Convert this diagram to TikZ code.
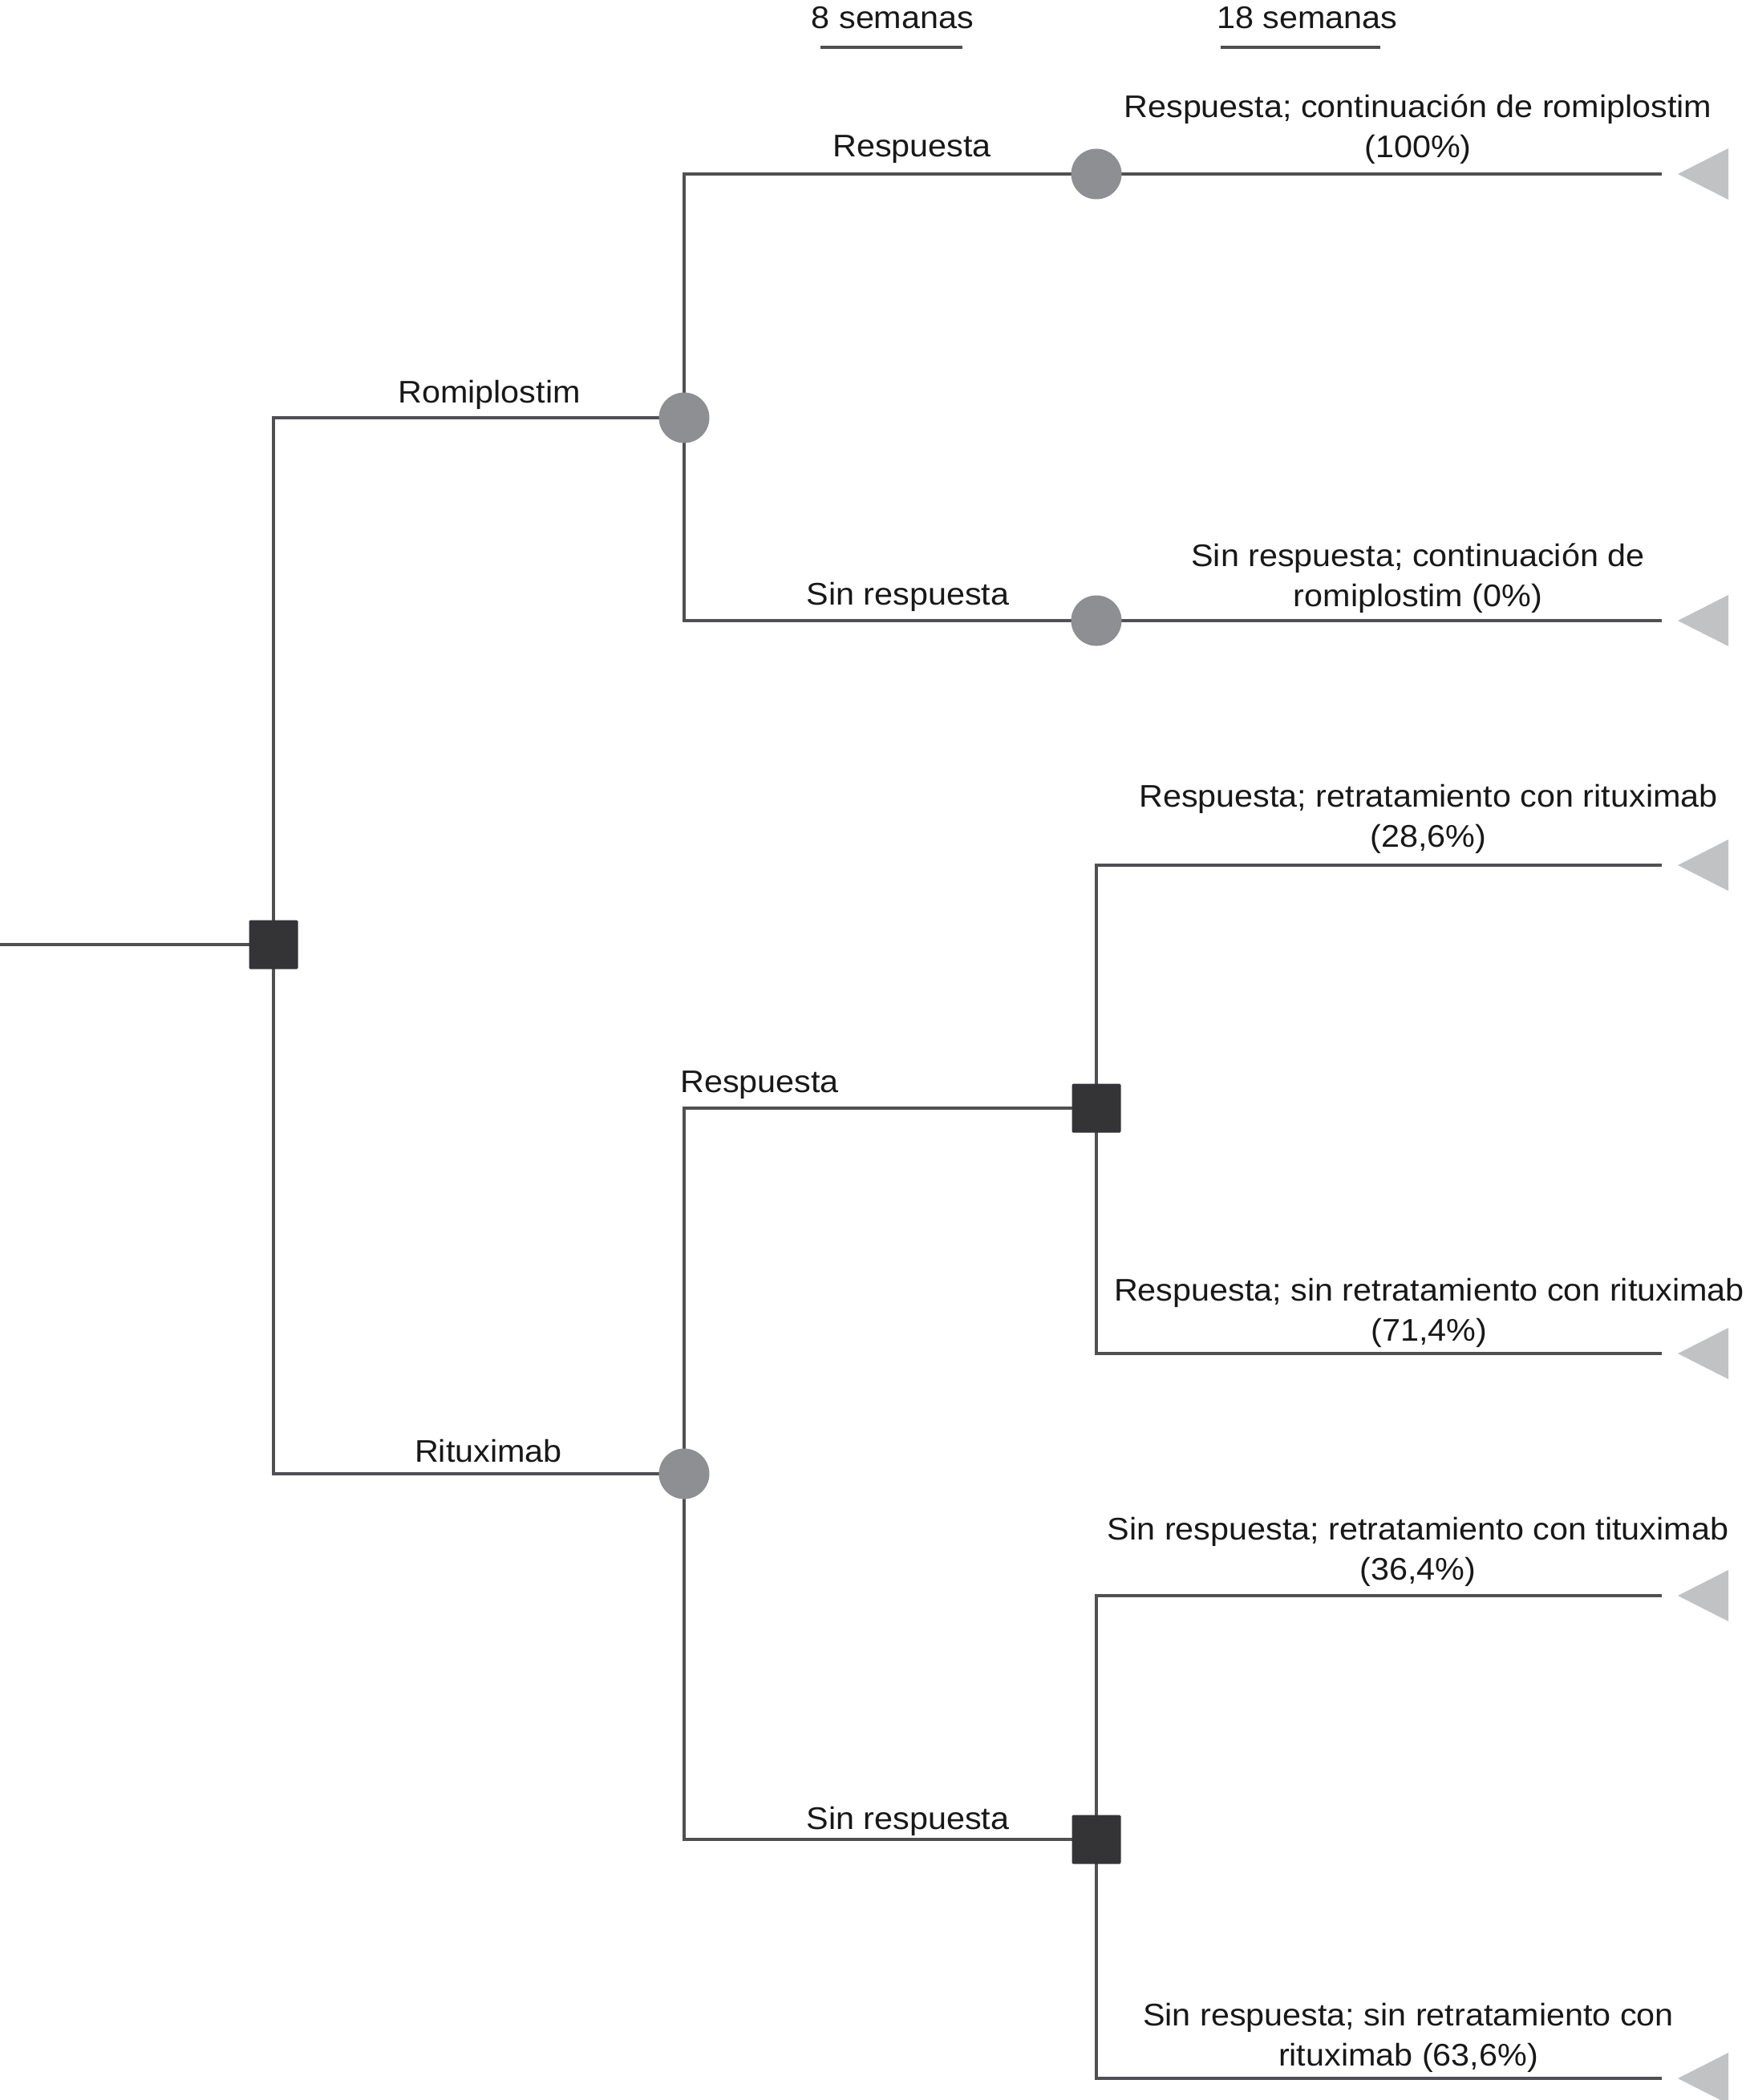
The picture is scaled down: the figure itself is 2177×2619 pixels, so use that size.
\documentclass[tikz,border=0pt]{standalone}
\usepackage{fontspec}
\setmainfont{Liberation Sans}[FakeStretch=1.06]
\usetikzlibrary{backgrounds}
\definecolor{edgecol}{RGB}{80,80,82}
\definecolor{chancecol}{RGB}{142,143,147}
\definecolor{decicol}{RGB}{52,52,54}
\definecolor{termcol}{RGB}{193,194,196}
\definecolor{txtcol}{RGB}{24,24,24}
\tikzset{
  edge/.style={draw=edgecol, line width=4.5pt},
  chance/.style={circle, fill=chancecol, minimum size=63pt, inner sep=0pt},
  decision/.style={rectangle, fill=decicol, minimum size=61pt, inner sep=0pt, rounded corners=1.5pt},
  lbl/.style={font=\fontsize{39}{50}\selectfont, text=txtcol, inner sep=0pt, text depth=0pt, anchor=south, align=center},
  termtri/.style={fill=termcol}
}
\begin{document}
\begin{tikzpicture}[x=1pt,y=-1pt]
\useasboundingbox (0,0) rectangle (2177,2619);
% header
\node[lbl] (h8) at (1113,36) {8 semanas};
\node[lbl] (h18) at (1630,36) {18 semanas};
\coordinate (u8a) at (1023,59); \coordinate (u8b) at (1200,59);
\coordinate (u18a) at (1522,59); \coordinate (u18b) at (1721,59);
\draw[edge] (u8a) -- (u8b);
\draw[edge] (u18a) -- (u18b);

% free ends
\coordinate (start) at (0,1178);
\coordinate (e1) at (2072,217);
\coordinate (e2) at (2072,774);
\coordinate (e3) at (2072,1079);
\coordinate (e4) at (2072,1688);
\coordinate (e5) at (2072,1990);
\coordinate (e6) at (2072,2592);

% nodes
\node[decision] (root) at (341,1178) {};
\node[chance] (c1) at (853,521) {};
\node[chance] (c2) at (1367,217) {};
\node[chance] (c3) at (1367,774) {};
\node[chance] (c4) at (853,1838) {};
\node[decision] (d2) at (1367,1382) {};
\node[decision] (d3) at (1367,2294) {};

% edges behind nodes
\begin{pgfonlayer}{background}
\draw[edge] (start) -- (root.center);
\draw[edge] (root.center) |- (c1.center);
\draw[edge] (root.center) |- (c4.center);
\draw[edge] (c1.center) |- (c2.center);
\draw[edge] (c1.center) |- (c3.center);
\draw[edge] (c2.center) -- (e1);
\draw[edge] (c3.center) -- (e2);
\draw[edge] (c4.center) |- (d2.center);
\draw[edge] (c4.center) |- (d3.center);
\draw[edge] (d2.center) |- (e3);
\draw[edge] (d2.center) |- (e4);
\draw[edge] (d3.center) |- (e5);
\draw[edge] (d3.center) |- (e6);
\end{pgfonlayer}

% terminal triangles
\foreach \e in {e1,e2,e3,e4,e5,e6}{
  \fill[termtri] ([xshift=20pt]\e) -- ([xshift=83pt,yshift=-32pt]\e) -- ([xshift=83pt,yshift=32pt]\e) -- cycle;
}

% branch labels
\node[lbl] (lrom) at (610,503) {Romiplostim};
\node[lbl] (lrit) at (609,1824) {Rituximab};
\node[lbl] (lr1) at (1137,196) {Respuesta};
\node[lbl] (ls1) at (1132,755) {Sin respuesta};
\node[lbl] (lr2) at (947,1363) {Respuesta};
\node[lbl] (ls2) at (1132,2282) {Sin respuesta};

% leaf labels
\node[lbl] (t1) at (1768,197) {Respuesta; continuación de romiplostim\\(100\%)};
\node[lbl] (t2) at (1768,757) {Sin respuesta; continuación de\\romiplostim (0\%)};
\node[lbl] (t3) at (1781,1057) {Respuesta; retratamiento con rituximab\\(28,6\%)};
\node[lbl] (t4) at (1782,1673) {Respuesta; sin retratamiento con rituximab\\(71,4\%)};
\node[lbl] (t5) at (1768,1971) {Sin respuesta; retratamiento con tituximab\\(36,4\%)};
\node[lbl] (t6) at (1756,2577) {Sin respuesta; sin retratamiento con\\rituximab (63,6\%)};
\end{tikzpicture}
\end{document}
